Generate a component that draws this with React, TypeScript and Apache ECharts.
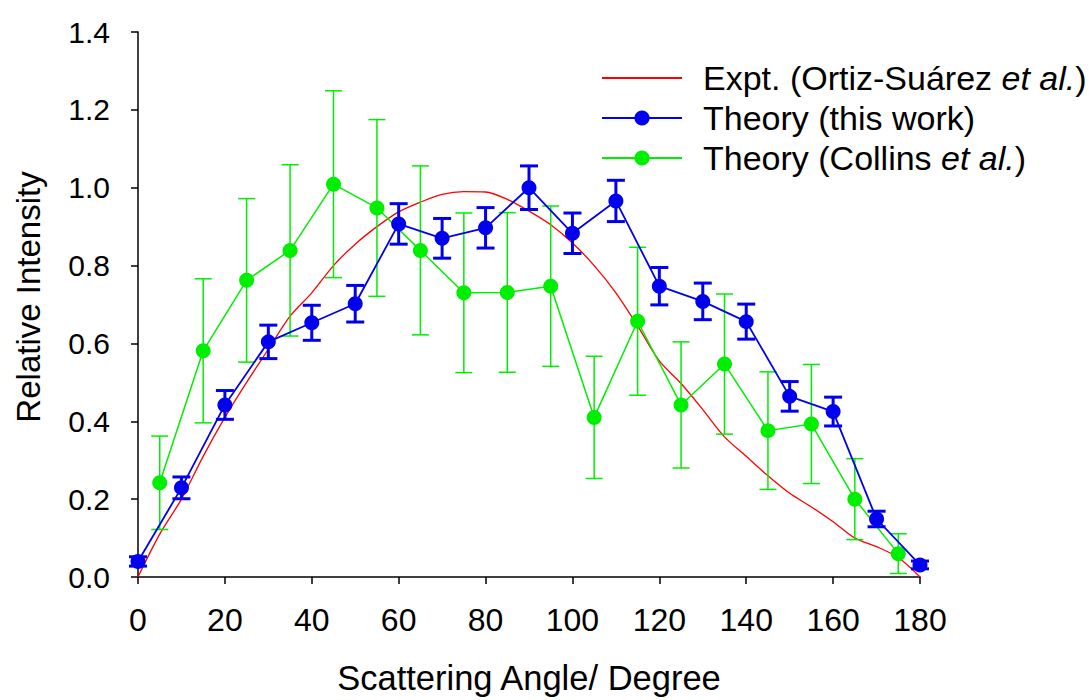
import React, { useEffect, useRef } from "react";
import * as echarts from "echarts";

const seriesNames = [
  "Expt. (Ortiz-Suárez et al.)",
  "Theory (this work)",
  "Theory (Collins et al.)",
];
const xTitle = "Scattering Angle/ Degree";
const yTitle = "Relative Intensity";

const exptAngles = [0, 5, 10, 15, 20, 25, 30, 35, 40, 45, 50, 55, 60, 65, 70, 75, 80, 85, 90, 95, 100, 105, 110, 115, 120, 125, 130, 135, 140, 145, 150, 155, 160, 165, 170, 175, 180];
const exptValues = [0.0, 0.11, 0.2, 0.31, 0.41, 0.5, 0.585, 0.67, 0.73, 0.8, 0.855, 0.9, 0.938, 0.963, 0.983, 0.99, 0.989, 0.97, 0.94, 0.905, 0.858, 0.8, 0.73, 0.645, 0.555, 0.497, 0.43, 0.36, 0.31, 0.26, 0.215, 0.18, 0.142, 0.1, 0.078, 0.05, 0.0];

const thisAngles = [0, 10, 20, 30, 40, 50, 60, 70, 80, 90, 100, 110, 120, 130, 140, 150, 160, 170, 180];
const thisValues = [0.04, 0.229, 0.442, 0.604, 0.653, 0.702, 0.907, 0.87, 0.897, 1.0, 0.883, 0.966, 0.747, 0.708, 0.656, 0.464, 0.425, 0.149, 0.031];
const thisErrors = [0.012, 0.028, 0.037, 0.043, 0.045, 0.047, 0.052, 0.051, 0.052, 0.056, 0.052, 0.053, 0.048, 0.047, 0.045, 0.038, 0.037, 0.02, 0.01];

const collinsAngles = [5, 15, 25, 35, 45, 55, 65, 75, 85, 95, 105, 115, 125, 135, 145, 155, 165, 175];
const collinsValues = [0.242, 0.581, 0.762, 0.839, 1.009, 0.948, 0.839, 0.73, 0.731, 0.747, 0.41, 0.657, 0.442, 0.547, 0.376, 0.393, 0.2, 0.06];
const collinsErrors = [0.12, 0.185, 0.21, 0.22, 0.24, 0.227, 0.217, 0.205, 0.205, 0.206, 0.157, 0.19, 0.162, 0.18, 0.151, 0.153, 0.104, 0.051];

const FONT = 'Arial, "Liberation Sans", sans-serif';

function errorBarSeries(angles: number[], values: number[], errors: number[], color: string, width: number, cap: number, z: number) {
  return {
    type: "custom",
    name: "err-" + color,
    data: angles.map((a, i) => [a, values[i] - errors[i], values[i] + errors[i]]),
    renderItem: (_params: any, api: any) => {
      const x = api.value(0);
      const lo = api.coord([x, api.value(1)]);
      const hi = api.coord([x, api.value(2)]);
      const style = { stroke: color, lineWidth: width };
      return {
        type: "group",
        children: [
          { type: "line", shape: { x1: lo[0], y1: lo[1], x2: hi[0], y2: hi[1] }, style },
          { type: "line", shape: { x1: lo[0] - cap / 2, y1: lo[1], x2: lo[0] + cap / 2, y2: lo[1] }, style },
          { type: "line", shape: { x1: hi[0] - cap / 2, y1: hi[1], x2: hi[0] + cap / 2, y2: hi[1] }, style },
        ],
      };
    },
    z,
  };
}

export default function App() {
  const ref = useRef<HTMLDivElement>(null);
  useEffect(() => {
    if (!ref.current) return;
    const chart = echarts.init(ref.current, undefined, { renderer: "svg" });
    chart.setOption({
      animation: false,
      backgroundColor: "#ffffff",
      grid: { left: 138, right: 169, top: 32, bottom: 121, containLabel: false },
      graphic: [
        {
          type: "text",
          x: 28,
          y: 297,
          rotation: Math.PI / 2,
          style: {
            text: yTitle,
            fontFamily: FONT,
            fontSize: 33,
            fill: "#000",
            align: "center",
            verticalAlign: "middle",
          },
        },
      ],
      xAxis: {
        type: "value",
        min: 0,
        max: 180,
        interval: 20,
        name: xTitle,
        nameLocation: "middle",
        nameGap: 83,
        nameTextStyle: { fontFamily: FONT, fontSize: 34.5, color: "#000" },
        axisLine: { lineStyle: { color: "#000", width: 1.5 } },
        axisTick: { show: true, inside: false, length: 7, lineStyle: { color: "#000", width: 1.5 } },
        axisLabel: { fontFamily: FONT, fontSize: 32, color: "#000", margin: 27 },
        splitLine: { show: false },
      },
      yAxis: {
        type: "value",
        min: 0,
        max: 1.4,
        interval: 0.2,
        axisLine: { show: true, lineStyle: { color: "#000", width: 1.5 } },
        axisTick: { show: true, inside: false, length: 7, lineStyle: { color: "#000", width: 1.5 } },
        axisLabel: {
          fontFamily: FONT,
          fontSize: 30,
          color: "#000",
          margin: 28,
          formatter: (v: number) => v.toFixed(1),
        },
        splitLine: { show: false },
      },
      legend: {
        data: [
          { name: seriesNames[0], itemStyle: { opacity: 0 } },
          { name: seriesNames[1] },
          { name: seriesNames[2] },
        ],
        orient: "vertical",
        left: 596,
        top: 55,
        itemWidth: 80,
        itemHeight: 19,
        itemGap: 4,
        textStyle: {
          fontFamily: FONT,
          fontSize: 34,
          color: "#000",
          lineHeight: 36,
          padding: [0, 0, 0, 16],
          rich: {
            i: { fontFamily: FONT, fontSize: 34, fontStyle: "italic", color: "#000", lineHeight: 36 },
          },
        },
        formatter: (name: string) => name.replace("et al.", "{i|et al.}"),
      },
      series: [
        {
          type: "line",
          name: seriesNames[0],
          data: exptAngles.map((a, i) => [a, exptValues[i]]),
          showSymbol: false,
          symbol: "none",
          smooth: 0.3,
          lineStyle: { color: "#ff0000", width: 1.3 },
          itemStyle: { color: "#ff0000" },
          z: 1,
        },
        errorBarSeries(collinsAngles, collinsValues, collinsErrors, "#00ee00", 1.5, 17, 2),
        {
          type: "line",
          name: seriesNames[2],
          data: collinsAngles.map((a, i) => [a, collinsValues[i]]),
          symbol: "circle",
          symbolSize: 15,
          lineStyle: { color: "#00ee00", width: 1.5 },
          itemStyle: { color: "#00ee00" },
          z: 3,
        },
        errorBarSeries(thisAngles, thisValues, thisErrors, "#0000ee", 3, 18, 4),
        {
          type: "line",
          name: seriesNames[1],
          data: thisAngles.map((a, i) => [a, thisValues[i]]),
          symbol: "circle",
          symbolSize: 15,
          lineStyle: { color: "#0000ee", width: 1.8 },
          itemStyle: { color: "#0000ee" },
          z: 5,
        },
      ],
    });
    return () => chart.dispose();
  }, []);
  return <div ref={ref} style={{ width: 1089, height: 700, position: "absolute", left: 0, top: 0 }} />;
}
